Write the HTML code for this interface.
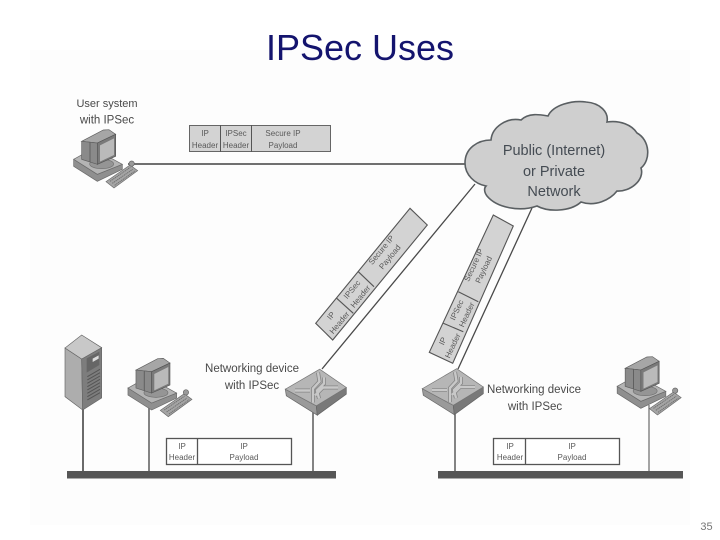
<!DOCTYPE html>
<html><head><meta charset="utf-8"><style>
html,body{margin:0;padding:0;background:#fff}
svg{display:block}
text{font-family:"Liberation Sans",sans-serif;fill:#4a4a4a;text-anchor:middle}
.s{font-size:8px;fill:#5a5a5a}
.l{font-size:11.5px}
.c{font-size:14.5px;fill:#444c52}
</style></head><body>
<svg width="720" height="540" viewBox="0 0 720 540" xmlns="http://www.w3.org/2000/svg">
<defs>
<filter id="b" x="-5%" y="-5%" width="110%" height="110%"><feGaussianBlur stdDeviation="0.35"/></filter>
<g id="pc">
<g transform="translate(50,80) scale(.3333)">
<polygon points="71,238 71,259 142,304 217,268 217,253 142,283" fill="#8f8f8f" stroke="#6a6a6a" stroke-width="2"/>
<polygon points="71,238 130,205 217,253 142,283" fill="#b4b4b4" stroke="#6a6a6a" stroke-width="2"/>
<ellipse cx="155" cy="252" rx="36" ry="14" fill="#959595" stroke="#707070" stroke-width="2"/>
<polygon points="95,184 160,150 177,149 197,163 142,189" fill="#a6a6a6" stroke="#5f5f5f" stroke-width="2"/>
<polygon points="95,184 142,189 142,253 95,238" fill="#8a8a8a" stroke="#5f5f5f" stroke-width="2"/>
<line x1="120" y1="187" x2="120" y2="246" stroke="#606060" stroke-width="3"/>
<polygon points="142,189 197,163 197,229 142,253" fill="#7a7a7a" stroke="#555" stroke-width="2"/>
<polygon points="150,196 192,175 192,225 150,245" fill="#bababa"/>
<polygon points="168,305 240,255 263,272 192,324" fill="#a5a5a5" stroke="#6a6a6a" stroke-width="2"/>
<path d="M180 304L241 262M187 310L248 268M194 316L255 273" stroke="#707070" stroke-width="3" stroke-dasharray="4 2" fill="none"/>
<circle cx="245" cy="251" r="8" fill="#9a9a9a" stroke="#666" stroke-width="2"/>
</g>
</g>
<g id="sw">
<polygon points=".3,20.700 31.300,37.300 32.300,46.700 1.300,27.300" fill="#9a9a9a" stroke="#666" stroke-width=".7"/>
<polygon points="61.300,19 61.300,25.700 32.300,46.700 31.300,37.300" fill="#797979" stroke="#666" stroke-width=".7"/>
<polygon points="34.700,.7 61.300,19 31.300,37.300 .3,20.700" fill="#b6b6b6" stroke="#777" stroke-width=".7"/>
<path d="M33 4L34.500 13 28 20 28 34M10 22L25 22M53 19L38 19 30 27M39 9L39 15 32 22 34 30" fill="none" stroke="#858585" stroke-width="4"/>
<path d="M33 4L34.500 13 28 20 28 34M10 22L25 22M53 19L38 19 30 27M39 9L39 15 32 22 34 30" fill="none" stroke="#c8c8c8" stroke-width="2.400"/>
</g>
</defs>
<rect width="720" height="540" fill="#fff"/>
<rect x="30" y="50" width="660" height="475" fill="#fdfdfd"/>
<text x="360" y="60" style="font-size:36px;fill:#14146e;text-anchor:middle">IPSec Uses</text>

<g filter="url(#b)">
<!-- connector lines -->
<line x1="128" y1="164" x2="468" y2="164" stroke="#5c5c5c" stroke-width="1.8"/>
<line x1="475" y1="184" x2="322" y2="369" stroke="#4a4a4a" stroke-width="1.3"/>
<line x1="532" y1="208" x2="458" y2="369" stroke="#4a4a4a" stroke-width="1.3"/>

<!-- cloud -->
<path d="M465 163C465 148 478 140 491 140C492 127 507 117 521 120C529 112 542 115 548 116C553 105 572 100 586 102C600 103 609 112 607 122C620 120 632 125 637 133C650 140 651 160 641 168C645 180 630 192 617 191C610 200 595 207 581 202C570 212 548 212 537 206C520 212 497 208 487 196C484 192 484 188 486 186C475 184 465 175 465 163Z" fill="#cfcfcf" stroke="#5a5f62" stroke-width="1.6"/>
<text class="c" x="554" y="155">Public (Internet)</text>
<text class="c" x="554" y="176">or Private</text>
<text class="c" x="554" y="196">Network</text>

<!-- top packet -->
<rect x="189.500" y="125.500" width="141" height="26" fill="#d3d3d3" stroke="#666" stroke-width="1"/>
<line x1="220.500" y1="125" x2="220.500" y2="152" stroke="#555" stroke-width="1"/>
<line x1="251.500" y1="125" x2="251.500" y2="152" stroke="#555" stroke-width="1"/>
<text class="s" x="205" y="136">IP</text><text class="s" x="205" y="148">Header</text>
<text class="s" x="236" y="136">IPSec</text><text class="s" x="236" y="148">Header</text>
<text class="s" x="283" y="136">Secure IP</text><text class="s" x="283" y="148">Payload</text>

<!-- diagonal packet 1 -->
<polygon points="410,208.300 427.300,225 332.700,340 315.700,323.300" fill="#d3d3d3" stroke="#555" stroke-width="1.1"/>
<line x1="358.300" y1="271.700" x2="374" y2="286.700" stroke="#555" stroke-width="1.100"/>
<line x1="336.700" y1="298.300" x2="353.300" y2="313.300" stroke="#555" stroke-width="1.100"/>
<g transform="translate(334.600,318.700) rotate(-50.600)"><text class="s" y="-2">IP</text><text class="s" y="9">Header</text></g>
<g transform="translate(355.600,292.500) rotate(-50.600)"><text class="s" y="-2">IPSec</text><text class="s" y="9">Header</text></g>
<g transform="translate(385,253) rotate(-50.600)"><text class="s" y="-2">Secure IP</text><text class="s" y="9">Payload</text></g>

<!-- diagonal packet 2 -->
<polygon points="493.300,215 513.300,226 452.700,363.300 429.300,352.300" fill="#d3d3d3" stroke="#555" stroke-width="1.1"/>
<line x1="458.300" y1="291.700" x2="478.300" y2="301.700" stroke="#555" stroke-width="1.100"/>
<line x1="443.300" y1="323.300" x2="463.300" y2="331.700" stroke="#555" stroke-width="1.100"/>
<g transform="translate(447,343) rotate(-65)"><text class="s" y="-2">IP</text><text class="s" y="9">Header</text></g>
<g transform="translate(461,312) rotate(-65)"><text class="s" y="-2">IPSec</text><text class="s" y="9">Header</text></g>
<g transform="translate(478,267) rotate(-65)"><text class="s" y="-2">Secure IP</text><text class="s" y="9">Payload</text></g>

<!-- verticals and bars -->
<line x1="83" y1="405" x2="83" y2="472" stroke="#5a5a5a" stroke-width="1.800"/>
<line x1="149" y1="405" x2="149" y2="472" stroke="#5a5a5a" stroke-width="1.500"/>
<line x1="313" y1="405" x2="313" y2="472" stroke="#5a5a5a" stroke-width="1.500"/>
<line x1="455" y1="405" x2="455" y2="472" stroke="#5a5a5a" stroke-width="1.500"/>
<line x1="649" y1="405" x2="649" y2="472" stroke="#5a5a5a" stroke-width="1.100"/>
<rect x="67" y="471" width="269" height="7.500" fill="#565656"/>
<rect x="438" y="471" width="245" height="7.500" fill="#565656"/>

<!-- PCs -->
<use href="#pc"/>
<use href="#pc" transform="translate(54.300,228.700)"/>
<use href="#pc" transform="translate(543.500,227)"/>

<!-- server -->
<g transform="translate(50,330) scale(.3333)">
<polygon points="45,54 95,87 98,240 45,200" fill="#adadad" stroke="#666" stroke-width="2"/>
<polygon points="95,87 155,53 155,204 98,240" fill="#7d7d7d" stroke="#666" stroke-width="2"/>
<polygon points="45,54 95,15 155,53 95,87" fill="#c8c8c8" stroke="#666" stroke-width="2"/>
<polygon points="110,85 148,65 148,105 110,128" fill="#666"/>
<polygon points="128,86 146,76 146,86 128,96" fill="#dcdcdc"/>
<path d="M112 140L150 118M112 150L150 128M112 160L150 138M112 170L150 148M112 180L150 158M112 190L150 168M112 200L150 178M112 210L150 188" stroke="#555" stroke-width="3"/>
</g>

<!-- switches -->
<use href="#sw" transform="translate(285,368.500)"/>
<use href="#sw" transform="translate(422,368)"/>

<!-- white packets -->
<rect x="166.500" y="438.500" width="125" height="26" fill="#fff" stroke="#555" stroke-width="1.300"/>
<line x1="197.500" y1="438" x2="197.500" y2="465" stroke="#555" stroke-width="1.300"/>
<text class="s" x="182" y="449">IP</text><text class="s" x="182" y="460">Header</text>
<text class="s" x="244" y="449">IP</text><text class="s" x="244" y="460">Payload</text>
<rect x="493.500" y="438.500" width="126" height="26" fill="#fff" stroke="#555" stroke-width="1.300"/>
<line x1="525.500" y1="438" x2="525.500" y2="465" stroke="#555" stroke-width="1.300"/>
<text class="s" x="510" y="449">IP</text><text class="s" x="510" y="460">Header</text>
<text class="s" x="572" y="449">IP</text><text class="s" x="572" y="460">Payload</text>

<!-- labels -->
<text x="107" y="107" style="font-size:11px">User system</text>
<text x="107" y="123.500" class="l">with IPSec</text>
<text x="252" y="372" class="l">Networking device</text>
<text x="252" y="389" class="l">with IPSec</text>
<text x="534" y="393" class="l">Networking device</text>
<text x="535" y="410" class="l">with IPSec</text>
</g>
<text x="706.500" y="530" style="font-size:11px;fill:#777">35</text>
</svg>
</body></html>
